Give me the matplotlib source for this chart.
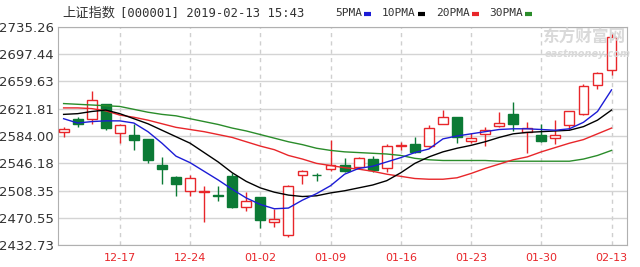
import numpy as np
import matplotlib
matplotlib.use("Agg")
import matplotlib.pyplot as plt
from matplotlib.lines import Line2D

# trading days shown on the chart (index 0 = 12-11)
dates = ["12-11", "12-12", "12-13", "12-14", "12-17", "12-18", "12-19", "12-20", "12-21",
         "12-24", "12-25", "12-26", "12-27", "12-28", "01-02", "01-03", "01-04",
         "01-07", "01-08", "01-09", "01-10", "01-11", "01-14", "01-15", "01-16",
         "01-17", "01-18", "01-21", "01-22", "01-23", "01-24", "01-25", "01-28",
         "01-29", "01-30", "01-31", "02-01", "02-11", "02-12", "02-13"]

opens = [2589.4, 2608.0, 2608.0, 2628.6, 2588.5, 2584.8, 2579.3, 2543.8, 2527.3,
         2507.0, 2505.7, 2502.0, 2528.6, 2485.0, 2498.8, 2464.7, 2446.8,
         2529.6, 2530.5, 2537.9, 2543.8, 2540.3, 2552.6, 2539.0, 2570.0,
         2573.3, 2570.0, 2601.0, 2610.0, 2577.0, 2586.2, 2597.6, 2614.7,
         2590.0, 2584.8, 2581.6, 2599.0, 2614.7, 2655.2, 2676.0]
highs = [2596.0, 2611.0, 2647.0, 2629.0, 2600.0, 2600.0, 2580.0, 2555.0, 2528.0,
         2530.0, 2515.0, 2515.0, 2533.0, 2506.0, 2500.0, 2483.0, 2515.5,
         2537.0, 2533.3, 2578.3, 2553.0, 2555.0, 2556.3, 2572.4, 2576.0,
         2583.0, 2599.0, 2619.7, 2611.0, 2588.5, 2596.8, 2617.5, 2630.8,
         2603.0, 2600.0, 2605.9, 2619.0, 2656.1, 2673.0, 2725.6]
lows = [2583.0, 2597.0, 2601.0, 2593.0, 2574.7, 2564.5, 2547.0, 2517.0, 2501.0,
        2501.0, 2464.0, 2494.0, 2484.0, 2480.0, 2456.4, 2458.0, 2443.6,
        2517.0, 2521.7, 2535.6, 2533.7, 2539.0, 2534.2, 2534.0, 2565.0,
        2561.0, 2569.0, 2600.0, 2574.7, 2573.8, 2570.0, 2597.0, 2590.8,
        2561.0, 2576.0, 2572.4, 2591.7, 2613.0, 2649.3, 2669.0]
closes = [2594.0, 2601.0, 2633.5, 2595.0, 2598.6, 2578.3, 2550.3, 2537.9, 2517.2,
          2526.4, 2507.0, 2500.5, 2485.0, 2494.0, 2468.0, 2468.9, 2514.8,
          2535.6, 2529.2, 2543.8, 2535.6, 2554.0, 2536.5, 2570.0, 2571.4,
          2561.8, 2595.4, 2610.0, 2582.5, 2581.5, 2591.7, 2602.3, 2600.0,
          2594.5, 2577.0, 2584.8, 2618.4, 2653.8, 2671.3, 2721.0]

ma5 = [2608, 2602, 2604, 2605, 2605, 2602, 2590, 2574, 2556, 2547, 2535, 2523, 2510,
       2498, 2489, 2483, 2484, 2495, 2504, 2515, 2531, 2539, 2542, 2548, 2554, 2561,
       2566, 2580, 2584, 2587, 2590, 2593, 2594, 2594, 2593, 2592, 2594, 2603, 2618, 2648]
ma10 = [2614, 2615, 2618, 2620, 2615, 2608, 2601, 2592, 2583, 2574, 2561, 2548, 2533,
        2521, 2512, 2506, 2502, 2500, 2501, 2505, 2508, 2512, 2516, 2522, 2533, 2546,
        2555, 2562, 2567, 2571, 2576, 2582, 2587, 2589, 2590, 2591, 2592, 2597, 2606, 2620]
ma20 = [2623, 2623, 2622, 2619, 2613, 2610, 2606, 2601, 2596, 2593, 2590, 2586, 2582,
        2576, 2570, 2565, 2557, 2552, 2546, 2543, 2540, 2538, 2535, 2531, 2528, 2525,
        2524, 2524, 2526, 2532, 2539, 2545, 2551, 2555, 2562, 2568, 2574, 2579, 2587, 2595]
ma30 = [2629, 2628, 2627, 2626, 2625, 2621, 2617, 2614, 2612, 2608, 2604, 2600, 2595,
        2591, 2586, 2581, 2576, 2572, 2567, 2564, 2562, 2561, 2560, 2559, 2557, 2553,
        2551, 2550, 2550, 2550, 2550, 2549, 2549, 2549, 2549, 2549, 2549, 2552, 2557, 2564]

y_ticks = [2432.73, 2470.55, 2508.35, 2546.18, 2584.00, 2621.81, 2659.63, 2697.44, 2735.26]
x_tick_labels = ["12-17", "12-24", "01-02", "01-09", "01-16", "01-23", "01-30", "02-13"]

RED = "#e8262a"
GREEN = "#0b7a35"

fig = plt.figure(figsize=(6.4, 2.67), dpi=100)
ax = fig.add_axes([58 / 640, 1 - 245 / 267, 569 / 640, 218 / 267])

x = np.arange(len(dates))
o = np.array(opens)
c = np.array(closes)
up = c >= o

ax.vlines(x[up], np.array(lows)[up], np.array(highs)[up], color=RED, lw=1, zorder=3)
ax.vlines(x[~up], np.array(lows)[~up], np.array(highs)[~up], color=GREEN, lw=1, zorder=3)
ax.bar(x[up], (c - o)[up], bottom=o[up], width=0.7, facecolor="white",
       edgecolor=RED, linewidth=1, zorder=4)
ax.bar(x[~up], (c - o)[~up], bottom=o[~up], width=0.7, facecolor=GREEN,
       edgecolor=GREEN, linewidth=1, zorder=4)

ax.plot(x, ma30, color="#2a8c2a", lw=1, zorder=5)
ax.plot(x, ma20, color="#e8262a", lw=1, zorder=5)
ax.plot(x, ma10, color="black", lw=1, zorder=5)
ax.plot(x, ma5, color="#1c1cd6", lw=1, zorder=5)

ax.set_xlim(-0.4, 40.1)
ax.set_ylim(y_ticks[0], y_ticks[-1])
ax.set_yticks(y_ticks)
ax.set_yticklabels(["%.2f" % v for v in y_ticks], fontsize=9.5, color="#333333")
ax.set_xticks([dates.index(d) for d in x_tick_labels])
ax.set_xticklabels(x_tick_labels, fontsize=8, color=RED)
ax.tick_params(length=0)
ax.tick_params(axis="y", pad=3)
ax.tick_params(axis="x", pad=6)

ax.grid(axis="y", color="#d4d4d4", lw=1, ls="-", zorder=0)
ax.grid(axis="x", color="#cfcfcf", lw=1, ls=(0, (3, 3)), zorder=0)
for s in ax.spines.values():
    s.set_color("#b0b0b0")

# title and legend
fig.text(62 / 640, 1 - 13 / 267, "上证指数", family=["Noto Sans CJK SC", "DejaVu Sans"],
         fontsize=9.5, color="#333333", va="center")
fig.text(120 / 640, 1 - 13 / 267, "[000001] 2019-02-13 15:43", family="DejaVu Sans Mono",
         fontsize=8.8, color="#333333", va="center")

legend = [("5PMA", "#1c1cd6", 335), ("10PMA", "black", 382),
          ("20PMA", RED, 436), ("30PMA", "#2a8c2a", 489)]
for name, col, px in legend:
    fig.text(px / 640, 1 - 13 / 267, name, fontsize=8, color="#333333",
             va="center", family="DejaVu Sans Mono")
    end = px + 7 * len(name) + 1
    fig.add_artist(Line2D([end / 640, (end + 7) / 640], [1 - 14 / 267, 1 - 14 / 267],
                          color=col, lw=3, solid_capstyle="butt"))

# watermark
fig.text(542 / 640, 1 - 38 / 267, "东方财富网", family=["Noto Sans CJK SC", "DejaVu Sans"],
         fontsize=12, color="#d9d9d9", va="center", weight="bold", zorder=1)
fig.text(545 / 640, 1 - 54 / 267, "eastmoney.com", fontsize=7, color="#d9d9d9",
         va="center", style="italic", weight="bold", zorder=1)

fig.savefig("out.png", dpi=100)
